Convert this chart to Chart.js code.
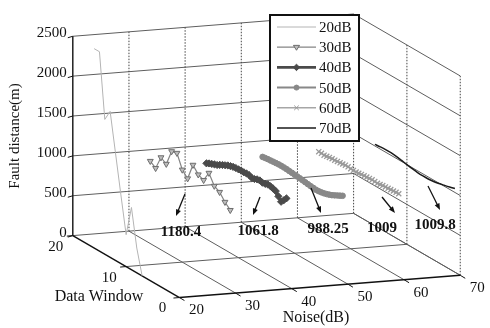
<!DOCTYPE html>
<html>
<head>
<meta charset="utf-8">
<script src="https://cdn.jsdelivr.net/npm/chart.js@4.4.1/dist/chart.umd.min.js"></script>
<style>
  html, body { margin: 0; padding: 0; background: #fff; }
  #wrap { width: 490px; height: 328px; }
</style>
</head>
<body>
<div id="wrap"><canvas id="faultChart" width="490" height="328"></canvas></div>
<script>
// values
const seriesNames = ['20dB', '30dB', '40dB', '50dB', '60dB', '70dB'];
const noiseLevels = [20, 30, 40, 50, 60, 70];

const window20 = [16, 15, 14, 13, 12, 11, 10, 9, 8, 7];
const dist20 = [2500, 2500, 1690, 1830, 1350, 870, 400, 780, 310, 0];

const window30 = [16, 15, 14, 13, 12, 11, 10, 9, 8, 7, 6, 5, 4, 3, 2, 1];
const dist30 = [1034, 984, 1157, 1114, 1311, 1329, 1158, 1087, 1296, 1214, 1183, 1312, 1188, 1150, 1064, 1001];

const windowFine = [16, 15.5, 15, 14.5, 14, 13.5, 13, 12.5, 12, 11.5, 11, 10.5, 10, 9.5, 9, 8.5,
                    8, 7.5, 7, 6.5, 6, 5.5, 5, 4.5, 4, 3.5, 3, 2.5, 2, 1.5, 1];
const dist40 = [950, 968, 981, 995, 1007, 1028, 1046, 1062, 1079, 1090, 1100, 1105, 1108, 1112, 1110, 1115,
                1113, 1098, 1103, 1118, 1124, 1115, 1120, 1132, 1129, 1120, 1107, 1060, 1012, 1050, 1093];
const dist50 = [975, 980, 985, 988, 992, 995, 998, 999, 998, 996, 992, 989, 985, 982, 978, 973,
                968, 963, 958, 955, 952, 953, 958, 965, 975, 987, 1000, 1017, 1035, 1052, 1070];
const dist60 = [985, 983, 980, 985, 990, 993, 995, 998, 1000, 1005, 1010, 1008, 1005, 1002, 1000, 1005,
                1010, 1012, 1015, 1018, 1020, 1017, 1015, 1020, 1025, 1028, 1030, 1033, 1035, 1038, 1040];

const window70 = [16, 15, 14, 13, 12, 11, 10, 9, 8, 7, 6, 5, 4, 3, 2, 1];
const dist70 = [1020, 1028, 1033, 1032, 1025, 1013, 1000, 988, 978, 974, 975, 982, 995, 1012, 1030, 1050];

const meanLabels = ['1180.4', '1061.8', '988.25', '1009', '1009.8'];

const noiseTicks = [20, 30, 40, 50, 60, 70];
const windowTicks = [0, 10, 20];
const distTicks = [0, 500, 1000, 1500, 2000, 2500];

// view of the 3d box, in canvas units
const view = { ox: 178, oy: 302, nx: 5.74, ny: -0.46, wx: -5.45, wy: -3.2, zy: -0.0824 };
function project(noise, win, dist) {
    return {
        x: view.ox + (noise - 20) * view.nx + win * view.wx,
        y: view.oy + (noise - 20) * view.ny + win * view.wy + dist * view.zy
    };
}
function series(noise, wins, dists) {
    return wins.map((w, i) => project(noise, w, dists[i]));
}

const styles = [
    { color: '#b4b4b4', width: 1, point: false },
    { color: '#858585', width: 1.2, point: 'triangle', rot: 180, r: 3.4, fill: '#bdbdbd', edge: '#6e6e6e' },
    { color: '#4a4a4a', width: 2.6, point: 'rectRot', rot: 0, r: 3.6, fill: '#4a4a4a', edge: '#4a4a4a' },
    { color: '#888', width: 2, point: 'circle', rot: 0, r: 2.8, fill: '#888', edge: '#888' },
    { color: '#a6a6a6', width: 1.5, point: 'crossRot', rot: 0, r: 3.6, fill: '#999', edge: '#999' },
    { color: '#1a1a1a', width: 1.5, point: false }
];

const points = [
    series(noiseLevels[0], window20, dist20),
    series(noiseLevels[1], window30, dist30),
    series(noiseLevels[2], windowFine, dist40),
    series(noiseLevels[3], windowFine, dist50),
    series(noiseLevels[4], windowFine, dist60),
    series(noiseLevels[5], window70, dist70)
];

const datasets = points.map((pts, i) => {
    const s = styles[i];
    return {
        label: seriesNames[i],
        data: pts,
        showLine: true,
        borderColor: s.color,
        borderWidth: s.width,
        pointStyle: s.point || 'circle',
        pointRadius: s.point ? s.r : 0,
        pointRotation: s.rot || 0,
        pointBackgroundColor: s.fill,
        pointBorderColor: s.edge,
        pointBorderWidth: s.point === 'crossRot' ? 1.3 : 1,
        tension: i === 5 ? 0.35 : 0,
        clip: false
    };
});

const serif = '"Liberation Serif", "Times New Roman", serif';

function line(ctx, a, b) {
    ctx.beginPath();
    ctx.moveTo(a[0], a[1]);
    ctx.lineTo(b[0], b[1]);
    ctx.stroke();
}

const boxPlugin = {
    id: 'box3d',
    beforeDatasetsDraw(chart) {
        const ctx = chart.ctx;
        const sx = chart.scales.x, sy = chart.scales.y;
        const px = (n, w, z) => { const p = project(n, w, z); return [sx.getPixelForValue(p.x), sy.getPixelForValue(p.y)]; };
        ctx.save();
        ctx.lineWidth = 1;
        ctx.strokeStyle = '#5e5e5e';
        // horizontal grid on back and right walls
        distTicks.forEach(z => {
            line(ctx, px(20, 20, z), px(70, 20, z));
            line(ctx, px(70, 20, z), px(70, 0, z));
        });
        // floor grid
        noiseTicks.slice(1).forEach(n => line(ctx, px(n, 0, 0), px(n, 20, 0)));
        line(ctx, px(20, 10, 0), px(70, 10, 0));
        // vertical grid, dotted
        ctx.setLineDash([1.5, 1.5]);
        ctx.strokeStyle = '#444';
        noiseTicks.slice(1).forEach(n => line(ctx, px(n, 20, 0), px(n, 20, 2500)));
        line(ctx, px(70, 10, 0), px(70, 10, 2500));
        line(ctx, px(70, 0, 0), px(70, 0, 2500));
        ctx.setLineDash([]);

        // axis lines
        ctx.strokeStyle = '#111';
        ctx.lineWidth = 1.4;
        line(ctx, px(20, 20, 0), px(20, 20, 2500));
        line(ctx, px(20, 0, 0), px(20, 20, 0));
        line(ctx, px(20, 0, 0), px(70, 0, 0));

        // ticks and labels
        ctx.lineWidth = 1;
        ctx.fillStyle = '#111';
        ctx.font = '15px ' + serif;
        ctx.textBaseline = 'middle';
        ctx.textAlign = 'right';
        distTicks.forEach(z => {
            const p = px(20, 20, z);
            line(ctx, p, [p[0] - 5, p[1] + 1.5]);
            ctx.fillText(String(z), p[0] - 6, p[1] - 3);
        });
        ctx.textAlign = 'center';
        windowTicks.forEach(w => {
            const p = px(20, w, 0);
            line(ctx, p, [p[0] - 6, p[1] + 0.5]);
            ctx.fillText(String(w), p[0] - 17, p[1] + 11);
        });
        noiseTicks.forEach(n => {
            const p = px(n, 0, 0);
            line(ctx, p, [p[0] + 5, p[1] + 3]);
            ctx.fillText(String(n), p[0] + 17, p[1] + 13);
        });

        // axis titles
        ctx.font = '16px ' + serif;
        ctx.fillText('Data Window', 99, 297);
        ctx.fillText('Noise(dB)', 316, 318);
        ctx.save();
        ctx.translate(15, 136);
        ctx.rotate(-Math.PI / 2);
        ctx.font = '15px ' + serif;
        ctx.fillText('Fault distance(m)', 0, 0);
        ctx.restore();
        ctx.restore();
    },
    afterDatasetsDraw(chart) {
        const ctx = chart.ctx;
        ctx.save();
        // mean value notes with arrows
        const notes = [
            { t: [181, 232], a: [185, 194], b: [176, 216] },
            { t: [258, 231], a: [260, 197], b: [253, 215] },
            { t: [328, 229], a: [311, 188], b: [321, 213] },
            { t: [382, 228], a: [382, 197], b: [395, 213] },
            { t: [435, 225], a: [428, 186], b: [440, 210] }
        ];
        ctx.fillStyle = '#111';
        ctx.strokeStyle = '#111';
        ctx.lineWidth = 1.3;
        ctx.font = 'bold 15px ' + serif;
        ctx.textAlign = 'center';
        ctx.textBaseline = 'middle';
        notes.forEach((nt, i) => {
            const ang = Math.atan2(nt.b[1] - nt.a[1], nt.b[0] - nt.a[0]);
            const head = 7;
            line(ctx, nt.a, [nt.b[0] - Math.cos(ang) * head * 0.6, nt.b[1] - Math.sin(ang) * head * 0.6]);
            ctx.beginPath();
            ctx.moveTo(nt.b[0], nt.b[1]);
            ctx.lineTo(nt.b[0] - head * Math.cos(ang - 0.38), nt.b[1] - head * Math.sin(ang - 0.38));
            ctx.lineTo(nt.b[0] - head * Math.cos(ang + 0.38), nt.b[1] - head * Math.sin(ang + 0.38));
            ctx.closePath();
            ctx.fill();
            ctx.fillText(meanLabels[i], nt.t[0], nt.t[1]);
        });

        // legend box
        const lx = 270, ly = 15, lw = 89, lh = 126;
        ctx.fillStyle = '#fff';
        ctx.fillRect(lx, ly, lw, lh);
        ctx.strokeStyle = '#111';
        ctx.lineWidth = 2;
        ctx.strokeRect(lx, ly, lw, lh);
        ctx.font = '15px ' + serif;
        ctx.textAlign = 'left';
        seriesNames.forEach((name, i) => {
            const s = styles[i];
            const y = 27 + i * 20.2;
            ctx.strokeStyle = s.color;
            ctx.lineWidth = s.width;
            line(ctx, [277, y], [316, y]);
            if (s.point) {
                drawMarker(ctx, s, 296.5, y);
            }
            ctx.fillStyle = '#111';
            ctx.fillText(name, 319, y + 1);
        });
        ctx.restore();
    }
};

function drawMarker(ctx, s, x, y) {
    const r = s.r * 0.9;
    ctx.save();
    ctx.fillStyle = s.fill;
    ctx.strokeStyle = s.edge;
    ctx.lineWidth = 1;
    ctx.beginPath();
    if (s.point === 'triangle') {
        ctx.moveTo(x - r, y - r * 0.6);
        ctx.lineTo(x + r, y - r * 0.6);
        ctx.lineTo(x, y + r);
        ctx.closePath();
        ctx.fill(); ctx.stroke();
    } else if (s.point === 'rectRot') {
        ctx.moveTo(x, y - r); ctx.lineTo(x + r, y); ctx.lineTo(x, y + r); ctx.lineTo(x - r, y);
        ctx.closePath();
        ctx.fill(); ctx.stroke();
    } else if (s.point === 'circle') {
        ctx.arc(x, y, r, 0, Math.PI * 2);
        ctx.fill(); ctx.stroke();
    } else {
        ctx.moveTo(x - r * 0.7, y - r * 0.7); ctx.lineTo(x + r * 0.7, y + r * 0.7);
        ctx.moveTo(x + r * 0.7, y - r * 0.7); ctx.lineTo(x - r * 0.7, y + r * 0.7);
        ctx.stroke();
    }
    ctx.restore();
}

const chart = new Chart(document.getElementById('faultChart').getContext('2d'), {
    type: 'scatter',
    data: { datasets: datasets },
    options: {
        responsive: false,
        animation: false,
        devicePixelRatio: 1,
        layout: { padding: 0 },
        plugins: { legend: { display: false }, tooltip: { enabled: false } },
        scales: {
            x: { type: 'linear', min: 0, max: 490, display: false },
            y: { type: 'linear', min: 0, max: 328, reverse: true, display: false }
        }
    },
    plugins: [boxPlugin]
});
</script>
</body>
</html>
